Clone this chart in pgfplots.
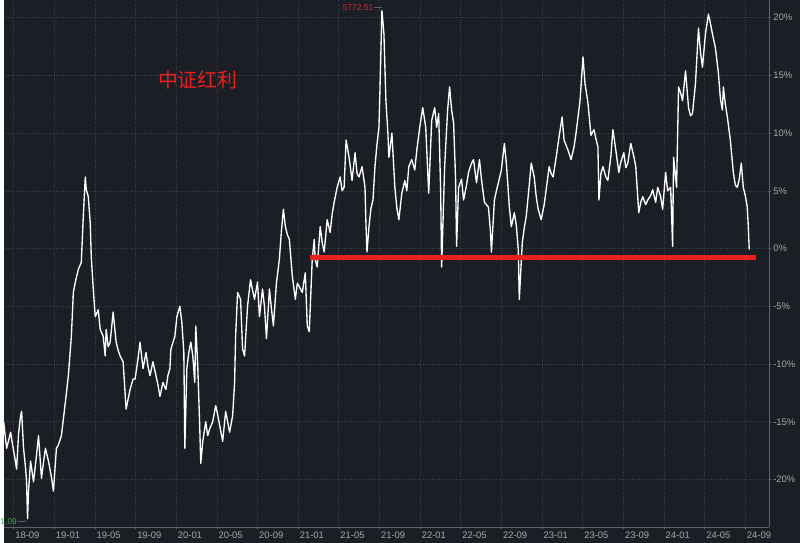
\documentclass[border=0pt]{standalone}
\usepackage{pgfplots}
\pgfplotsset{compat=1.18}
\usetikzlibrary{arrows.meta}
\usepackage{fontspec}
\setmainfont{Liberation Sans}
\newfontfamily\cjk{Noto Sans CJK SC}
\definecolor{bgc}{HTML}{1B1E25}
\definecolor{gridc}{HTML}{3B404B}
\definecolor{axc}{HTML}{5C616C}
\definecolor{lblc}{HTML}{A9A9A9}
\definecolor{redl}{HTML}{E8201E}
\definecolor{redt}{HTML}{C8303A}
\definecolor{greent}{HTML}{3FA34A}
\begin{document}
\begin{tikzpicture}
\fill[bgc] (0,0) rectangle (800bp,545bp);
\begin{axis}[
  at={(0bp,16bp)}, anchor=south west,
  scale only axis, width=769bp, height=529bp,
  xmin=0, xmax=769, ymin=-24.1, ymax=21.5,
  clip mode=individual,
  axis background/.style={fill=bgc},
  axis x line*=bottom, axis y line*=right,
  axis line style={draw=axc, line width=0.6bp},
  xtick={10,50.83,91.67,132.5,173.33,214.17,255,295.83,336.67,377.5,418.33,459.17,500,540.83,581.67,622.5,663.33,704.17,745},
  xticklabels={18-09,19-01,19-05,19-09,20-01,20-05,20-09,21-01,21-05,21-09,22-01,22-05,22-09,23-01,23-05,23-09,24-01,24-05,24-09},
  ytick={-20,-15,-10,-5,0,5,10,15,20},
  yticklabels={-20\%,-15\%,-10\%,-5\%,0\%,5\%,10\%,15\%,20\%},
  tick align=outside, major tick length=2bp,
  tick style={draw=axc, line width=0.5bp},
  xmajorgrids, ymajorgrids,
  grid style={draw=gridc, dotted, line width=0.6bp},
  ticklabel style={font=\fontsize{9.5}{10}\selectfont, text=lblc},
  xticklabel style={anchor=north west, inner sep=1bp, xshift=0.5bp, yshift=-1.5bp},
  yticklabel style={anchor=west, inner sep=1bp, xshift=1bp},
]
\addplot[white, line width=1.35bp, line join=round] coordinates {
(0,-15.0) (3,-17.3) (7,-15.9) (8,-16.5) (11,-18.0) (13,-19.1) (15,-16.0) (17,-14.5) (18,-14.1) (20,-17.3) (22,-19.0) (23,-20.2) (24,-23.4) (25,-21.0)
(27,-18.4) (30,-20.2) (33,-17.9) (35,-16.2) (38,-19.9) (40,-18.5) (42,-17.3) (45,-18.4) (48,-19.8) (50,-21.0) (53,-17.3) (55,-17.0) (58,-16.2)
(62,-13.3) (65,-11.0) (68,-7.6) (70,-3.8) (72,-2.9) (75,-1.8) (78,-1.2) (80,2.8) (82,6.2) (83,5.1) (85,4.5) (87,2.2) (88,-0.7)
(90,-3.5) (92,-5.9) (95,-5.3) (97,-7.0) (100,-7.6) (102,-9.3) (103,-7.0) (105,-8.5) (107,-8.1) (110,-5.5) (113,-8.1) (115,-8.8) (117,-9.3) (120,-9.8)
(123,-13.9) (127,-12.2) (130,-11.3) (132,-11.3) (135,-9.5) (137,-8.1) (140,-10.4) (143,-9.0) (145,-10.2) (147,-11.0) (150,-9.8) (153,-11.0)
(155,-11.8) (157,-12.8) (160,-11.6) (163,-12.2) (165,-11.0) (167,-10.4) (168,-8.7) (172,-7.6) (174,-5.9) (177,-5.0) (179,-6.4) (181,-9.0)
(182,-17.3) (184,-10.4) (186,-9.0) (188,-8.1) (190,-9.3) (192,-11.6) (193,-6.7) (195,-10.2) (197,-15.5) (198,-18.6) (200,-16.7) (203,-15.0)
(205,-16.2) (207,-15.6) (210,-15.0) (213,-13.6) (215,-14.4) (217,-15.3) (220,-16.7) (223,-14.1) (225,-15.0) (227,-15.9) (230,-14.5) (232,-11.6)
(233,-7.6) (235,-3.8) (238,-4.4) (240,-8.7) (242,-9.3) (245,-5.0) (248,-2.7) (250,-3.6) (252,-4.4) (255,-2.9) (257,-5.9) (260,-3.5) (262,-5.0)
(264,-7.8) (267,-3.5) (269,-5.2) (271,-6.7) (274,-3.0) (277,-0.9) (279,1.5) (281,3.4) (283,1.9) (285,1.2) (287,0.8) (290,-2.4) (293,-4.4)
(295,-3.0) (297,-3.3) (300,-3.8) (303,-2.1) (305,-6.7) (307,-7.2) (310,-0.9) (312,0.8) (313,-1.0) (315,-1.6) (318,1.9) (320,0.5) (322,-0.3)
(325,2.5) (328,1.4) (330,3.0) (332,4.0) (335,5.3) (338,6.2) (340,5.0) (342,5.3) (344,9.4) (347,7.9) (350,5.9) (353,8.3) (355,6.5) (357,6.2)
(360,7.1) (363,5.3) (364,2.0) (365,-0.3) (367,1.9) (369,3.5) (371,4.2) (373,7.1) (375,9.0) (377,10.5) (378,13.7) (380,20.6) (382,18.6)
(384,12.8) (386,10.0) (387,7.9) (390,10.0) (393,5.3) (395,3.5) (397,2.5) (400,4.8) (403,5.9) (405,5.0) (407,7.1) (410,7.7) (413,6.8) (415,8.5)
(418,10.5) (421,12.2) (424,10.5) (427,4.8) (430,11.1) (433,12.2) (435,10.5) (437,11.7) (439,5.0) (440,-1.6) (443,7.1) (446,12.0) (448,14.0)
(450,12.0) (452,10.9) (454,6.0) (455,0.2) (457,5.3) (460,6.0) (462,4.2) (465,5.5) (467,6.6) (470,7.4) (472,7.7) (475,5.7) (478,7.7) (480,6.0)
(483,4.0) (487,3.6) (489,1.5) (490,-0.3) (493,4.2) (495,5.0) (497,5.7) (500,6.8) (503,9.1) (505,7.4) (508,3.6) (510,1.9) (513,3.1) (515,2.0)
(517,-0.1) (518,-4.4) (521,0.5) (523,1.8) (525,2.8) (528,5.5) (530,7.4) (533,6.2) (535,4.5) (537,3.4) (540,2.5) (543,3.8) (545,5.1) (548,7.1)
(550,6.5) (552,6.2) (555,7.9) (558,9.7) (561,11.4) (563,9.4) (567,8.5) (570,7.7) (573,8.8) (575,10.0) (577,11.4) (579,12.8) (582,16.6)
(584,14.3) (587,12.6) (590,9.8) (593,10.3) (595,9.5) (597,8.8) (598,4.2) (600,6.5) (602,7.1) (605,6.2) (607,5.9) (610,8.0) (612,10.3)
(615,8.5) (618,6.6) (620,7.5) (623,8.3) (625,7.0) (627,7.4) (630,9.1) (633,8.0) (635,7.1) (638,3.1) (640,4.0) (642,4.5) (645,3.8) (647,4.2)
(650,4.6) (652,5.1) (655,4.0) (657,5.3) (660,4.5) (662,3.4) (665,6.6) (667,5.0) (670,5.3) (671,3.0) (672,0.2) (673,7.9) (676,5.3) (678,14.0)
(680,13.5) (682,12.8) (685,15.4) (688,12.2) (690,11.5) (692,11.7) (695,14.3) (698,19.1) (700,17.0) (702,15.7) (705,18.6) (708,20.3)
(710,19.5) (712,18.6) (715,17.4) (718,15.2) (720,13.0) (722,12.0) (723,14.0) (725,12.5) (727,11.4) (730,9.4) (733,6.6) (735,5.5) (737,5.3)
(739,6.0) (741,7.4) (743,5.3) (745,4.6) (747,3.6) (748,2.0) (749,-0.1)
};
\addplot[redl, line width=4.5bp] coordinates {(308,-0.78) (756,-0.78)};
\node[font=\cjk\fontsize{20}{22}\selectfont, text=redl] at (axis cs:195,14.6) {中证红利};
\draw[axc, line width=0.6bp] (axis cs:372,20.9) -- (axis cs:380,20.9);
\node[anchor=east, inner sep=0.5bp, font=\fontsize{8.5}{9}\selectfont, text=redt] at (axis cs:372,20.9) {5772.51};
\draw[axc, line width=0.6bp, -{Stealth[length=2bp]}] (axis cs:14,-23.6) -- (axis cs:23,-23.6);
\node[anchor=east, inner sep=0.5bp, font=\fontsize{8.5}{9}\selectfont, text=greent] at (axis cs:14,-23.6) {1.09};
\end{axis}
\end{tikzpicture}
\end{document}
